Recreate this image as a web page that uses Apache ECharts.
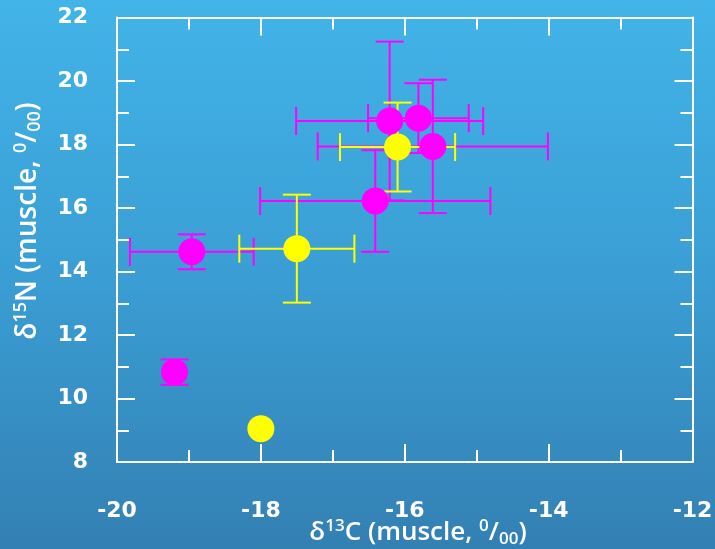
<!DOCTYPE html>
<html>
<head>
<meta charset="utf-8">
<script src="https://cdn.jsdelivr.net/npm/echarts@6/dist/echarts.min.js"></script>
<style>
html,body{margin:0;padding:0;overflow:hidden;}
#c{width:715px;height:549px;background:linear-gradient(to bottom,#42b4e8 0%,#3a9ed4 50%,#3380b3 100%);}
</style>
</head>
<body>
<div id="c"></div>
<script>
// tick values
var xTicks = [-20, -18, -16, -14, -12];
var yTicks = [8, 10, 12, 14, 16, 18, 20, 22];

// axis titles (rich-text fragments)
var xTitle = '{n|δ}{sup|13}{n|C (muscle, }{sup|0}{n|/}{sub|00}{n|)}';
var yTitle = '{n|δ}{sup|15}{n|N (muscle, }{sup|0}{n|/}{sub|00}{n|)}';

// Yellow group
var yellowX    = [-18.0, -17.5, -16.1];
var yellowY    = [9.05, 14.72, 17.92];
var yellowXErr = [0, 0.8, 0.8];
var yellowYErr = [0, 1.7, 1.4];

// Magenta group
var magentaX    = [-19.2, -18.96, -16.41, -16.21, -15.81, -15.61];
var magentaY    = [10.83, 14.62, 16.22, 18.74, 18.83, 17.94];
var magentaXErr = [0, 0.86, 1.6, 1.3, 0.7, 1.6];
var magentaYErr = [0.4, 0.55, 1.6, 2.5, 1.1, 2.1];

function pts(xs, ys) { return xs.map(function (x, i) { return [x, ys[i]]; }); }
function errs(xs, ys, ex, ey) { return xs.map(function (x, i) { return [x, ys[i], ex[i], ey[i]]; }); }

function errRender(color) {
  return function (params, api) {
    var x = api.value(0), y = api.value(1), ex = api.value(2), ey = api.value(3);
    var cap = 14;
    var st = { stroke: color, lineWidth: 2 };
    var ch = [];
    if (ex > 0) {
      var l = api.coord([x - ex, y]), r = api.coord([x + ex, y]);
      ch.push({ type: 'line', shape: { x1: l[0], y1: l[1], x2: r[0], y2: r[1] }, style: st });
      ch.push({ type: 'line', shape: { x1: l[0], y1: l[1] - cap, x2: l[0], y2: l[1] + cap }, style: st });
      ch.push({ type: 'line', shape: { x1: r[0], y1: r[1] - cap, x2: r[0], y2: r[1] + cap }, style: st });
    }
    if (ey > 0) {
      var t = api.coord([x, y + ey]), b = api.coord([x, y - ey]);
      ch.push({ type: 'line', shape: { x1: t[0], y1: t[1], x2: b[0], y2: b[1] }, style: st });
      ch.push({ type: 'line', shape: { x1: t[0] - cap, y1: t[1], x2: t[0] + cap, y2: t[1] }, style: st });
      ch.push({ type: 'line', shape: { x1: b[0] - cap, y1: b[1], x2: b[0] + cap, y2: b[1] }, style: st });
    }
    return { type: 'group', children: ch };
  };
}

var axisLineStyle = { show: true, lineStyle: { color: '#ffffff', width: 2 } };
var majorTick = { show: true, inside: true, length: 18, lineStyle: { color: '#ffffff', width: 2 } };
var minorTick = { show: true, splitNumber: 2, length: 12, lineStyle: { color: '#ffffff', width: 2 } };
var tickFont = { color: '#ffffff', fontFamily: 'DejaVu Sans', fontWeight: 'bold', fontSize: 22 };

function makeRich(size, supSize) {
  return {
    n: { fill: '#ffffff', color: '#ffffff', fontFamily: 'Open Sans', fontWeight: 600, fontSize: size, lineHeight: size + 4 },
    sup: { fill: '#ffffff', color: '#ffffff', fontFamily: 'Open Sans', fontWeight: 600, fontSize: supSize, verticalAlign: 'top' },
    sub: { fill: '#ffffff', color: '#ffffff', fontFamily: 'Open Sans', fontWeight: 600, fontSize: supSize, verticalAlign: 'bottom' }
  };
}

var chart = echarts.init(document.getElementById('c'), null, { renderer: 'canvas' });
chart.setOption({
  backgroundColor: 'transparent',
  animation: false,
  grid: { left: 117, right: 22.5, top: 17.5, bottom: 87, outerBoundsMode: 'none', containLabel: false },
  xAxis: [{
    type: 'value', min: xTicks[0], max: xTicks[xTicks.length - 1], interval: 2,
    axisLine: axisLineStyle, axisTick: majorTick, minorTick: minorTick,
    splitLine: { show: false },
    axisLabel: Object.assign({ margin: 38 }, tickFont)
  }, {
    type: 'value', position: 'top', min: xTicks[0], max: xTicks[xTicks.length - 1], interval: 2,
    axisLine: axisLineStyle, axisTick: majorTick, minorTick: minorTick,
    splitLine: { show: false }, axisLabel: { show: false }
  }],
  yAxis: [{
    type: 'value', min: yTicks[0], max: yTicks[yTicks.length - 1], interval: 2,
    axisLine: axisLineStyle, axisTick: majorTick, minorTick: minorTick,
    splitLine: { show: false },
    axisLabel: Object.assign({ margin: 29, padding: [5, 0, 0, 0] }, tickFont)
  }, {
    type: 'value', position: 'right', min: yTicks[0], max: yTicks[yTicks.length - 1], interval: 2,
    axisLine: axisLineStyle, axisTick: majorTick, minorTick: minorTick,
    splitLine: { show: false }, axisLabel: { show: false }
  }],
  graphic: [
    { type: 'text', x: 418, y: 533, z: 10,
      style: { text: xTitle, rich: makeRich(26, 17), fill: '#ffffff', align: 'center', verticalAlign: 'middle' } },
    { type: 'text', x: 28, y: 221, rotation: Math.PI / 2, z: 10,
      style: { text: yTitle, rich: makeRich(28, 18), fill: '#ffffff', align: 'center', verticalAlign: 'middle' } }
  ],
  series: [
    { type: 'custom', renderItem: errRender('#ff00ff'), data: errs(magentaX, magentaY, magentaXErr, magentaYErr), z: 1, encode: { x: 0, y: 1 } },
    { type: 'custom', renderItem: errRender('#ffff00'), data: errs(yellowX, yellowY, yellowXErr, yellowYErr), z: 1, encode: { x: 0, y: 1 } },
    { type: 'scatter', data: pts(yellowX, yellowY), symbolSize: 27, itemStyle: { color: '#ffff00', opacity: 1 }, z: 2 },
    { type: 'scatter', data: pts(magentaX, magentaY), symbolSize: 27, itemStyle: { color: '#ff00ff', opacity: 1 }, z: 3 }
  ]
});
</script>
</body>
</html>
